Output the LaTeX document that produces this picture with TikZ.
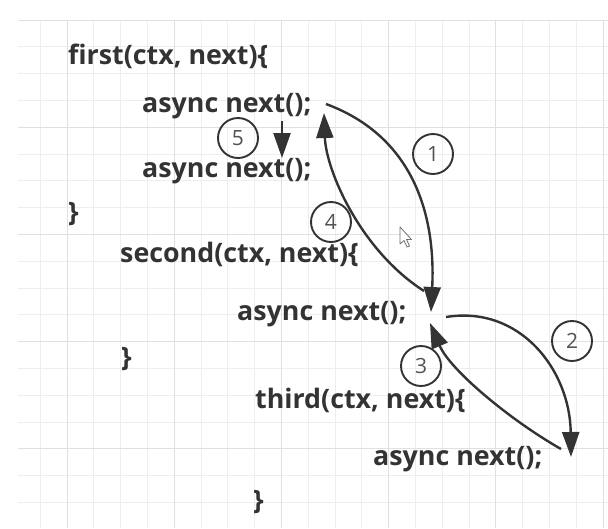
\documentclass[tikz,border=0pt]{standalone}
\usepackage{fontspec}
\setmainfont{Open Sans}
\usetikzlibrary{arrows.meta}
\definecolor{ink}{HTML}{333333}
\definecolor{gridminor}{HTML}{EEEEEE}
\definecolor{gridmajor}{HTML}{E0E0E0}
\tikzset{
  code/.style={anchor=base west, inner sep=0pt, text=ink,
    font=\fontsize{26.8}{30}\selectfont\bfseries},
  stepnum/.style={circle, draw=ink, line width=1.9pt, minimum size=40pt,
    inner sep=0pt, text=ink!85, font=\fontsize{21}{24}\selectfont},
  flow/.style={draw=ink, line width=2.4pt,
    -{Triangle[length=25pt,width=17pt]}},
}
\begin{document}
\begin{tikzpicture}[x=1pt,y=-1pt]
  \useasboundingbox (0,0) rectangle (608,528);
  \fill[white] (0,0) rectangle (608,528);

  % background grid: minor lines, then every fourth line darker
  \foreach \k in {-1,...,20}
    \draw[gridminor, line width=1pt] ({67+26.8*\k},20) -- ({67+26.8*\k},528);
  \foreach \k in {0,...,18}
    \draw[gridminor, line width=1pt] (18,{20+26.8*\k}) -- (608,{20+26.8*\k});
  \foreach \k in {0,...,5}
    \draw[gridmajor, line width=1pt] ({67+107.2*\k},20) -- ({67+107.2*\k},528);
  \foreach \k in {0,...,4}
    \draw[gridmajor, line width=1pt] (18,{20+107.2*\k}) -- (608,{20+107.2*\k});

  % code lines
  \node[code] (first)   at (68,64)   {first(ctx, next)\{};
  \node[code] (firstA)  at (142,112) {async next();};
  \node[code] (firstB)  at (142,177) {async next();};
  \node[code] (firstE)  at (68,221)  {\}};
  \node[code] (second)  at (120,262) {second(ctx, next)\{};
  \node[code] (secondA) at (237,320) {async next();};
  \node[code] (secondE) at (121,366) {\}};
  \node[code] (third)   at (255,408) {third(ctx, next)\{};
  \node[code] (thirdA)  at (373,465) {async next();};
  \node[code] (thirdE)  at (253,509) {\}};

  % connector ends
  \coordinate (a1s) at (326,104);
  \coordinate (a1e) at (431,312);
  \coordinate (a4s) at (424,291);
  \coordinate (a4e) at (324,113);
  \coordinate (a5s) at (282,121);
  \coordinate (a5e) at (282,158);
  \coordinate (a2s) at (446,317);
  \coordinate (a2e) at (571,457);
  \coordinate (a3s) at (561,449);
  \coordinate (a3e) at (430,323);

  % call / return flow
  \draw[flow] (a1s) .. controls (410,135) and (436,210) .. (a1e);
  \draw[flow] (a4s) .. controls (360,250) and (326,170) .. (a4e);
  \draw[flow] (a5s) -- (a5e);
  \draw[flow] (a2s) .. controls (520,305) and (570,370) .. (a2e);
  \draw[flow] (a3s) .. controls (510,420) and (450,370) .. (a3e);

  % step numbers
  \node[stepnum] (s1) at (433,154) {1};
  \node[stepnum] (s2) at (572,341) {2};
  \node[stepnum] (s3) at (421,366) {3};
  \node[stepnum] (s4) at (331,222) {4};
  \node[stepnum] (s5) at (238,138) {5};

  % mouse pointer
  \draw[fill=white, draw=ink!70, line width=0.8pt, line join=round]
    (400,227) -- (400,244) -- (404,240.5) -- (407,247) -- (409.5,246)
    -- (406.5,239.5) -- (411.5,239.5) -- cycle;
\end{tikzpicture}
\end{document}
